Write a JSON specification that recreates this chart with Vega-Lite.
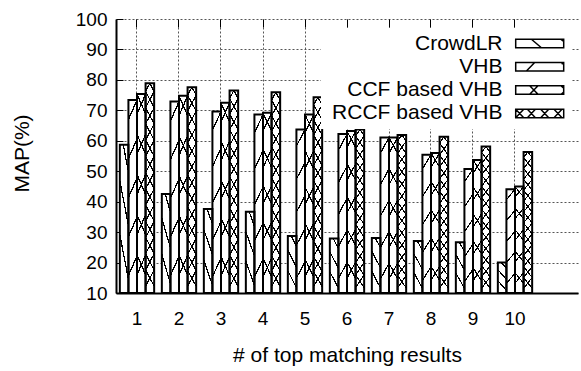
{
  "$schema": "https://vega.github.io/schema/vega-lite/v6.json",
  "autosize": "none",
  "width": 462,
  "height": 274,
  "padding": {"left": 116, "top": 19, "right": 3, "bottom": 78},
  "config": {"font": "Liberation Sans", "view": {"stroke": null}, "background": "white"},
  "data": {"values": [
    {"k": 1, "series": "CrowdLR", "v": 58.7}, {"k": 1, "series": "VHB", "v": 73.4}, {"k": 1, "series": "CCF based VHB", "v": 75.4}, {"k": 1, "series": "RCCF based VHB", "v": 78.9},
    {"k": 2, "series": "CrowdLR", "v": 42.5}, {"k": 2, "series": "VHB", "v": 72.9}, {"k": 2, "series": "CCF based VHB", "v": 74.8}, {"k": 2, "series": "RCCF based VHB", "v": 77.6},
    {"k": 3, "series": "CrowdLR", "v": 37.6}, {"k": 3, "series": "VHB", "v": 69.6}, {"k": 3, "series": "CCF based VHB", "v": 72.5}, {"k": 3, "series": "RCCF based VHB", "v": 76.5},
    {"k": 4, "series": "CrowdLR", "v": 36.7}, {"k": 4, "series": "VHB", "v": 68.6}, {"k": 4, "series": "CCF based VHB", "v": 69.2}, {"k": 4, "series": "RCCF based VHB", "v": 75.9},
    {"k": 5, "series": "CrowdLR", "v": 28.7}, {"k": 5, "series": "VHB", "v": 63.7}, {"k": 5, "series": "CCF based VHB", "v": 68.6}, {"k": 5, "series": "RCCF based VHB", "v": 74.3},
    {"k": 6, "series": "CrowdLR", "v": 27.9}, {"k": 6, "series": "VHB", "v": 62.2}, {"k": 6, "series": "CCF based VHB", "v": 63.2}, {"k": 6, "series": "RCCF based VHB", "v": 63.7},
    {"k": 7, "series": "CrowdLR", "v": 28.1}, {"k": 7, "series": "VHB", "v": 61.1}, {"k": 7, "series": "CCF based VHB", "v": 61.1}, {"k": 7, "series": "RCCF based VHB", "v": 61.9},
    {"k": 8, "series": "CrowdLR", "v": 27.1}, {"k": 8, "series": "VHB", "v": 55.4}, {"k": 8, "series": "CCF based VHB", "v": 56.0}, {"k": 8, "series": "RCCF based VHB", "v": 61.3},
    {"k": 9, "series": "CrowdLR", "v": 26.7}, {"k": 9, "series": "VHB", "v": 50.7}, {"k": 9, "series": "CCF based VHB", "v": 53.7}, {"k": 9, "series": "RCCF based VHB", "v": 58.1},
    {"k": 10, "series": "CrowdLR", "v": 20.0}, {"k": 10, "series": "VHB", "v": 44.1}, {"k": 10, "series": "CCF based VHB", "v": 45.0}, {"k": 10, "series": "RCCF based VHB", "v": 56.3}
  ]},
  "encoding": {
    "x": {"field": "k", "type": "ordinal", "axis": null,
      "scale": {"domain": [1,2,3,4,5,6,7,8,9,10,11], "paddingInner": 0.183, "paddingOuter": 0.0915}},
    "xOffset": {"field": "series", "type": "nominal",
      "scale": {"domain": ["CrowdLR", "VHB", "CCF based VHB", "RCCF based VHB"], "paddingInner": 0, "paddingOuter": 0}},
    "y": {"field": "v", "type": "quantitative",
      "scale": {"domain": [10, 100], "nice": false, "zero": false},
      "axis": {"title": "MAP(%)", "values": [10,20,30,40,50,60,70,80,90,100], "labelOverlap": false,
        "grid": true, "gridDash": [2, 2], "gridColor": "#555", "gridWidth": 1,
        "domainColor": "black", "domainWidth": 2,
        "tickSize": -7, "tickColor": "black", "tickWidth": 1,
        "labelFontSize": 19, "labelColor": "black", "labelPadding": 16,
        "titleFontSize": 21, "titleFontWeight": "normal", "titleColor": "black",
        "titleX": -94, "titleY": 134, "titleAngle": -90, "titleAlign": "center", "titleBaseline": "middle"}},
    "y2": {"datum": 10}
  },
  "layer": [
    {
      "mark": {"type": "bar", "strokeWidth": 0},
      "encoding": {
        "x": {"field": "k", "type": "ordinal",
          "axis": {"title": "# of top matching results", "values": [1,2,3,4,5,6,7,8,9,10], "labelAngle": 0,
            "grid": true, "gridDash": [2, 2], "gridColor": "#555", "gridWidth": 1,
            "ticks": false, "domainColor": "black", "domainWidth": 2,
            "labelFontSize": 19, "labelColor": "black", "labelPadding": 16,
            "titleFontSize": 21, "titleFontWeight": "normal", "titleColor": "black",
            "titleY": 62, "titleBaseline": "middle"}},
        "fill": {"field": "series", "type": "nominal",
          "scale": {"domain": ["CrowdLR", "VHB", "CCF based VHB", "RCCF based VHB"], "range": ["white", "white", "white", "white"]},
          "legend": {"orient": "none", "legendX": 205, "legendY": 9, "title": null,
            "fillColor": "white", "padding": 5, "rowPadding": 1.3,
            "labelFontSize": 21, "labelColor": "black", "labelAlign": "right", "labelOffset": -47.7, "labelLimit": 400,
            "symbolSize": 100, "symbolStrokeColor": "black", "symbolStrokeWidth": 1.5, "symbolOffset": 203.2,
            "encode": {"symbols": {"update": {
              "fill": {"value": "white"},
              "stroke": {"value": "black"},
              "shape": {"signal": "datum.value === 'CrowdLR' ? 'M-4.8,-0.85L4.8,-0.85L4.8,0.85L-4.8,0.85Z M-1.66,-0.85L0.34,0.85 M4.2,-0.85L4.8,-0.4' : datum.value === 'VHB' ? 'M-4.8,-0.85L4.8,-0.85L4.8,0.85L-4.8,0.85Z M-2.66,0.85L-1,-0.85 M4.4,-0.5L4.8,-0.85' : datum.value === 'CCF based VHB' ? 'M-4.8,-0.85L4.8,-0.85L4.8,0.85L-4.8,0.85Z M-2,-0.85L-0.34,0.85 M-2,0.85L-0.34,-0.85 M4.3,-0.85L4.8,-0.4 M4.3,0.85L4.8,0.4' : 'M-4.8,-0.85L4.8,-0.85L4.8,0.85L-4.8,0.85Z M-4.8,-0.85L-3.2,0.85 M-4.8,0.85L-3.2,-0.85 M-2.46,-0.85L-0.86,0.85 M-2.46,0.85L-0.86,-0.85 M0.2,-0.85L1.8,0.85 M0.2,0.85L1.8,-0.85 M2.86,-0.85L4.46,0.85 M2.86,0.85L4.46,-0.85'"}
            }}}
          }}
      }
    },
    {
      "transform": [{"filter": "datum.series === 'CrowdLR'"}],
      "mark": {"type": "bar", "strokeWidth": 0,
        "fill": {"gradient": "linear", "x1": 1, "y1": 0, "x2": 0.7, "y2": 1, "stops": [
          {"offset": 0, "color": "rgba(0,0,0,0)"}, {"offset": 0.147, "color": "rgba(0,0,0,0)"}, {"offset": 0.147, "color": "black"}, {"offset": 0.187, "color": "black"}, {"offset": 0.187, "color": "rgba(0,0,0,0)"},
          {"offset": 0.48, "color": "rgba(0,0,0,0)"}, {"offset": 0.48, "color": "black"}, {"offset": 0.52, "color": "black"}, {"offset": 0.52, "color": "rgba(0,0,0,0)"},
          {"offset": 0.813, "color": "rgba(0,0,0,0)"}, {"offset": 0.813, "color": "black"}, {"offset": 0.853, "color": "black"}, {"offset": 0.853, "color": "rgba(0,0,0,0)"},
          {"offset": 1, "color": "rgba(0,0,0,0)"}]}}
    },
    {
      "transform": [{"filter": "datum.series === 'VHB' || datum.series === 'CCF based VHB'"}],
      "mark": {"type": "bar", "strokeWidth": 0,
        "fill": {"gradient": "linear", "x1": 0, "y1": 0, "x2": 0.1, "y2": 1, "stops": [
          {"offset": 0, "color": "rgba(0,0,0,0)"},
          {"offset": 0.092, "color": "rgba(0,0,0,0)"}, {"offset": 0.092, "color": "black"}, {"offset": 0.108, "color": "black"}, {"offset": 0.108, "color": "rgba(0,0,0,0)"},
          {"offset": 0.292, "color": "rgba(0,0,0,0)"}, {"offset": 0.292, "color": "black"}, {"offset": 0.308, "color": "black"}, {"offset": 0.308, "color": "rgba(0,0,0,0)"},
          {"offset": 0.492, "color": "rgba(0,0,0,0)"}, {"offset": 0.492, "color": "black"}, {"offset": 0.508, "color": "black"}, {"offset": 0.508, "color": "rgba(0,0,0,0)"},
          {"offset": 0.692, "color": "rgba(0,0,0,0)"}, {"offset": 0.692, "color": "black"}, {"offset": 0.708, "color": "black"}, {"offset": 0.708, "color": "rgba(0,0,0,0)"},
          {"offset": 0.892, "color": "rgba(0,0,0,0)"}, {"offset": 0.892, "color": "black"}, {"offset": 0.908, "color": "black"}, {"offset": 0.908, "color": "rgba(0,0,0,0)"},
          {"offset": 1, "color": "rgba(0,0,0,0)"}]}}
    },
    {
      "transform": [{"filter": "datum.series === 'CCF based VHB'"}],
      "mark": {"type": "bar", "strokeWidth": 0,
        "fill": {"gradient": "linear", "x1": 1, "y1": 0, "x2": 0.9, "y2": 1, "stops": [
          {"offset": 0, "color": "rgba(0,0,0,0)"},
          {"offset": 0.092, "color": "rgba(0,0,0,0)"}, {"offset": 0.092, "color": "black"}, {"offset": 0.108, "color": "black"}, {"offset": 0.108, "color": "rgba(0,0,0,0)"},
          {"offset": 0.292, "color": "rgba(0,0,0,0)"}, {"offset": 0.292, "color": "black"}, {"offset": 0.308, "color": "black"}, {"offset": 0.308, "color": "rgba(0,0,0,0)"},
          {"offset": 0.492, "color": "rgba(0,0,0,0)"}, {"offset": 0.492, "color": "black"}, {"offset": 0.508, "color": "black"}, {"offset": 0.508, "color": "rgba(0,0,0,0)"},
          {"offset": 0.692, "color": "rgba(0,0,0,0)"}, {"offset": 0.692, "color": "black"}, {"offset": 0.708, "color": "black"}, {"offset": 0.708, "color": "rgba(0,0,0,0)"},
          {"offset": 0.892, "color": "rgba(0,0,0,0)"}, {"offset": 0.892, "color": "black"}, {"offset": 0.908, "color": "black"}, {"offset": 0.908, "color": "rgba(0,0,0,0)"},
          {"offset": 1, "color": "rgba(0,0,0,0)"}]}}
    },
    {
      "transform": [{"filter": "datum.series === 'RCCF based VHB'"}],
      "mark": {"type": "bar", "strokeWidth": 0,
        "fill": {"gradient": "linear", "x1": 0, "y1": 0, "x2": 0.077, "y2": 1, "stops": [
          {"offset": 0, "color": "rgba(0,0,0,0)"},
          {"offset": 0.0325, "color": "rgba(0,0,0,0)"}, {"offset": 0.0325, "color": "black"}, {"offset": 0.0445, "color": "black"}, {"offset": 0.0445, "color": "rgba(0,0,0,0)"},
          {"offset": 0.1094, "color": "rgba(0,0,0,0)"}, {"offset": 0.1094, "color": "black"}, {"offset": 0.1214, "color": "black"}, {"offset": 0.1214, "color": "rgba(0,0,0,0)"},
          {"offset": 0.1863, "color": "rgba(0,0,0,0)"}, {"offset": 0.1863, "color": "black"}, {"offset": 0.1983, "color": "black"}, {"offset": 0.1983, "color": "rgba(0,0,0,0)"},
          {"offset": 0.2632, "color": "rgba(0,0,0,0)"}, {"offset": 0.2632, "color": "black"}, {"offset": 0.2752, "color": "black"}, {"offset": 0.2752, "color": "rgba(0,0,0,0)"},
          {"offset": 0.3402, "color": "rgba(0,0,0,0)"}, {"offset": 0.3402, "color": "black"}, {"offset": 0.3522, "color": "black"}, {"offset": 0.3522, "color": "rgba(0,0,0,0)"},
          {"offset": 0.4171, "color": "rgba(0,0,0,0)"}, {"offset": 0.4171, "color": "black"}, {"offset": 0.4291, "color": "black"}, {"offset": 0.4291, "color": "rgba(0,0,0,0)"},
          {"offset": 0.494, "color": "rgba(0,0,0,0)"}, {"offset": 0.494, "color": "black"}, {"offset": 0.506, "color": "black"}, {"offset": 0.506, "color": "rgba(0,0,0,0)"},
          {"offset": 0.5709, "color": "rgba(0,0,0,0)"}, {"offset": 0.5709, "color": "black"}, {"offset": 0.5829, "color": "black"}, {"offset": 0.5829, "color": "rgba(0,0,0,0)"},
          {"offset": 0.6478, "color": "rgba(0,0,0,0)"}, {"offset": 0.6478, "color": "black"}, {"offset": 0.6598, "color": "black"}, {"offset": 0.6598, "color": "rgba(0,0,0,0)"},
          {"offset": 0.7248, "color": "rgba(0,0,0,0)"}, {"offset": 0.7248, "color": "black"}, {"offset": 0.7368, "color": "black"}, {"offset": 0.7368, "color": "rgba(0,0,0,0)"},
          {"offset": 0.8017, "color": "rgba(0,0,0,0)"}, {"offset": 0.8017, "color": "black"}, {"offset": 0.8137, "color": "black"}, {"offset": 0.8137, "color": "rgba(0,0,0,0)"},
          {"offset": 0.8786, "color": "rgba(0,0,0,0)"}, {"offset": 0.8786, "color": "black"}, {"offset": 0.8906, "color": "black"}, {"offset": 0.8906, "color": "rgba(0,0,0,0)"},
          {"offset": 0.9555, "color": "rgba(0,0,0,0)"}, {"offset": 0.9555, "color": "black"}, {"offset": 0.9675, "color": "black"}, {"offset": 0.9675, "color": "rgba(0,0,0,0)"},
          {"offset": 1, "color": "rgba(0,0,0,0)"}]}}
    },
    {
      "transform": [{"filter": "datum.series === 'RCCF based VHB'"}],
      "mark": {"type": "bar", "strokeWidth": 0,
        "fill": {"gradient": "linear", "x1": 1, "y1": 0, "x2": 0.923, "y2": 1, "stops": [
          {"offset": 0, "color": "rgba(0,0,0,0)"},
          {"offset": 0.0325, "color": "rgba(0,0,0,0)"}, {"offset": 0.0325, "color": "black"}, {"offset": 0.0445, "color": "black"}, {"offset": 0.0445, "color": "rgba(0,0,0,0)"},
          {"offset": 0.1094, "color": "rgba(0,0,0,0)"}, {"offset": 0.1094, "color": "black"}, {"offset": 0.1214, "color": "black"}, {"offset": 0.1214, "color": "rgba(0,0,0,0)"},
          {"offset": 0.1863, "color": "rgba(0,0,0,0)"}, {"offset": 0.1863, "color": "black"}, {"offset": 0.1983, "color": "black"}, {"offset": 0.1983, "color": "rgba(0,0,0,0)"},
          {"offset": 0.2632, "color": "rgba(0,0,0,0)"}, {"offset": 0.2632, "color": "black"}, {"offset": 0.2752, "color": "black"}, {"offset": 0.2752, "color": "rgba(0,0,0,0)"},
          {"offset": 0.3402, "color": "rgba(0,0,0,0)"}, {"offset": 0.3402, "color": "black"}, {"offset": 0.3522, "color": "black"}, {"offset": 0.3522, "color": "rgba(0,0,0,0)"},
          {"offset": 0.4171, "color": "rgba(0,0,0,0)"}, {"offset": 0.4171, "color": "black"}, {"offset": 0.4291, "color": "black"}, {"offset": 0.4291, "color": "rgba(0,0,0,0)"},
          {"offset": 0.494, "color": "rgba(0,0,0,0)"}, {"offset": 0.494, "color": "black"}, {"offset": 0.506, "color": "black"}, {"offset": 0.506, "color": "rgba(0,0,0,0)"},
          {"offset": 0.5709, "color": "rgba(0,0,0,0)"}, {"offset": 0.5709, "color": "black"}, {"offset": 0.5829, "color": "black"}, {"offset": 0.5829, "color": "rgba(0,0,0,0)"},
          {"offset": 0.6478, "color": "rgba(0,0,0,0)"}, {"offset": 0.6478, "color": "black"}, {"offset": 0.6598, "color": "black"}, {"offset": 0.6598, "color": "rgba(0,0,0,0)"},
          {"offset": 0.7248, "color": "rgba(0,0,0,0)"}, {"offset": 0.7248, "color": "black"}, {"offset": 0.7368, "color": "black"}, {"offset": 0.7368, "color": "rgba(0,0,0,0)"},
          {"offset": 0.8017, "color": "rgba(0,0,0,0)"}, {"offset": 0.8017, "color": "black"}, {"offset": 0.8137, "color": "black"}, {"offset": 0.8137, "color": "rgba(0,0,0,0)"},
          {"offset": 0.8786, "color": "rgba(0,0,0,0)"}, {"offset": 0.8786, "color": "black"}, {"offset": 0.8906, "color": "black"}, {"offset": 0.8906, "color": "rgba(0,0,0,0)"},
          {"offset": 0.9555, "color": "rgba(0,0,0,0)"}, {"offset": 0.9555, "color": "black"}, {"offset": 0.9675, "color": "black"}, {"offset": 0.9675, "color": "rgba(0,0,0,0)"},
          {"offset": 1, "color": "rgba(0,0,0,0)"}]}}
    },
    {
      "mark": {"type": "bar", "fillOpacity": 0, "stroke": "black", "strokeWidth": 2},
      "encoding": {
        "x": {"field": "k", "type": "ordinal",
          "axis": {"orient": "top", "title": null, "labels": false, "domain": false, "grid": false,
            "values": [1,2,3,4,5,6,7,8,9,10], "ticks": true, "tickSize": -8, "tickColor": "black", "tickWidth": 1}}
      }
    }
  ],
  "resolve": {"axis": {"x": "independent"}}
}
